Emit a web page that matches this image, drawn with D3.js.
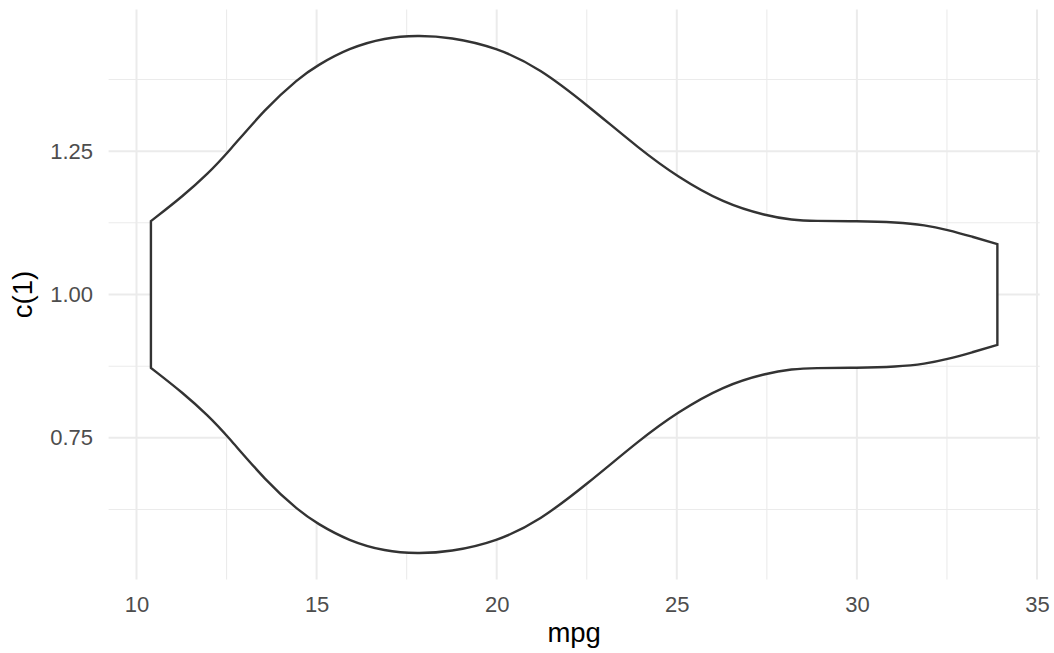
<!DOCTYPE html>
<html>
<head>
<meta charset="utf-8">
<script src="https://cdn.jsdelivr.net/npm/d3@7"></script>
<style>
    body { margin: 0; background: #fff; }
    svg { display: block; font-family: "Liberation Sans", Arial, sans-serif; }
</style>
</head>
<body>
<svg id="chart" width="1054" height="653"></svg>
<script>
// violin outline: half width of the density at each mpg value (centred on 1)
var mpgGrid   = [10.4, 11.3, 12.0, 12.5, 13.6, 14.5, 15.0, 15.9, 16.9, 17.8, 18.7, 20.0,
                 21.2, 22.5, 24.0, 25.0, 26.3, 27.5, 28.2, 28.8, 30.0, 31.1, 31.9, 32.5, 33.2, 33.9];
var halfWidth = [0.128, 0.172, 0.212, 0.245, 0.326, 0.377, 0.399, 0.430, 0.448, 0.452, 0.449, 0.431,
                 0.394, 0.331, 0.252, 0.206, 0.159, 0.137, 0.130, 0.128, 0.128, 0.126, 0.121, 0.113, 0.101, 0.088];
var centre = 1;

var xMajor = [10, 15, 20, 25, 30, 35];
var xMinor = [12.5, 17.5, 22.5, 27.5, 32.5];
var yMajor = [0.75, 1.00, 1.25];
var yMinor = [0.625, 0.875, 1.125, 1.375];

var xTitle = 'mpg';
var yTitle = 'c(1)';

(function () {
    var W = 1054, H = 653;
    var margin = {top: 9.4, right: 14.3, bottom: 73.4, left: 108.6};
    var iw = W - margin.left - margin.right,
        ih = H - margin.top - margin.bottom;

    var svg = d3.select('#chart');
    var g = svg.append('g').attr('transform', 'translate(' + margin.left + ',' + margin.top + ')');

    // 5% padding on both scales, like ggplot
    var xr = [d3.min(mpgGrid), d3.max(mpgGrid)];
    var xpad = (xr[1] - xr[0]) * 0.05;
    var x = d3.scaleLinear().domain([xr[0] - xpad, xr[1] + xpad]).range([0, iw]);

    var maxw = d3.max(halfWidth);
    var yr = [centre - maxw, centre + maxw];
    var ypad = (yr[1] - yr[0]) * 0.05;
    var y = d3.scaleLinear().domain([yr[0] - ypad, yr[1] + ypad]).range([ih, 0]);

    var grid = g.append('g').attr('class', 'grid');

    grid.selectAll('line.xminor').data(xMinor).enter().append('line')
        .attr('x1', d => x(d)).attr('x2', d => x(d))
        .attr('y1', 0).attr('y2', ih)
        .attr('stroke', '#ebebeb').attr('stroke-width', 1.1);
    grid.selectAll('line.yminor').data(yMinor).enter().append('line')
        .attr('y1', d => y(d)).attr('y2', d => y(d))
        .attr('x1', 0).attr('x2', iw)
        .attr('stroke', '#ebebeb').attr('stroke-width', 1.1);
    grid.selectAll('line.xmajor').data(xMajor).enter().append('line')
        .attr('x1', d => x(d)).attr('x2', d => x(d))
        .attr('y1', 0).attr('y2', ih)
        .attr('stroke', '#ebebeb').attr('stroke-width', 2);
    grid.selectAll('line.ymajor').data(yMajor).enter().append('line')
        .attr('y1', d => y(d)).attr('y2', d => y(d))
        .attr('x1', 0).attr('x2', iw)
        .attr('stroke', '#ebebeb').attr('stroke-width', 2);

    // the violin itself
    var pts = mpgGrid.map((m, i) => ({mpg: m, w: halfWidth[i]}));
    var area = d3.area()
        .x(d => x(d.mpg))
        .y0(d => y(centre - d.w))
        .y1(d => y(centre + d.w))
        .curve(d3.curveBasis);

    g.append('path')
        .datum(pts)
        .attr('d', area)
        .attr('fill', '#fff')
        .attr('stroke', '#333333')
        .attr('stroke-width', 2.4)
        .attr('stroke-linejoin', 'miter');

    // axes: labels only, no ticks or domain line
    var xAxis = g.append('g')
        .attr('transform', 'translate(0,' + ih + ')')
        .call(d3.axisBottom(x).tickValues(xMajor).tickSize(0).tickPadding(16.8).tickFormat(d3.format('d')));
    var yAxis = g.append('g')
        .call(d3.axisLeft(y).tickValues(yMajor).tickSize(0).tickPadding(15.6).tickFormat(d3.format('.2f')));

    [xAxis, yAxis].forEach(function (ax) {
        ax.select('.domain').remove();
        ax.selectAll('text')
            .attr('fill', '#4d4d4d')
            .style('font-size', '22px')
            .style('font-family', '"Liberation Sans", Arial, sans-serif');
    });

    svg.append('text')
        .attr('x', margin.left + iw / 2)
        .attr('y', 642)
        .attr('text-anchor', 'middle')
        .style('font-size', '27.5px')
        .attr('fill', '#000')
        .text(xTitle);

    svg.append('text')
        .attr('transform', 'translate(32,' + (margin.top + ih / 2) + ') rotate(-90)')
        .attr('text-anchor', 'middle')
        .style('font-size', '27.5px')
        .attr('fill', '#000')
        .text(yTitle);
}());
</script>
</body>
</html>
